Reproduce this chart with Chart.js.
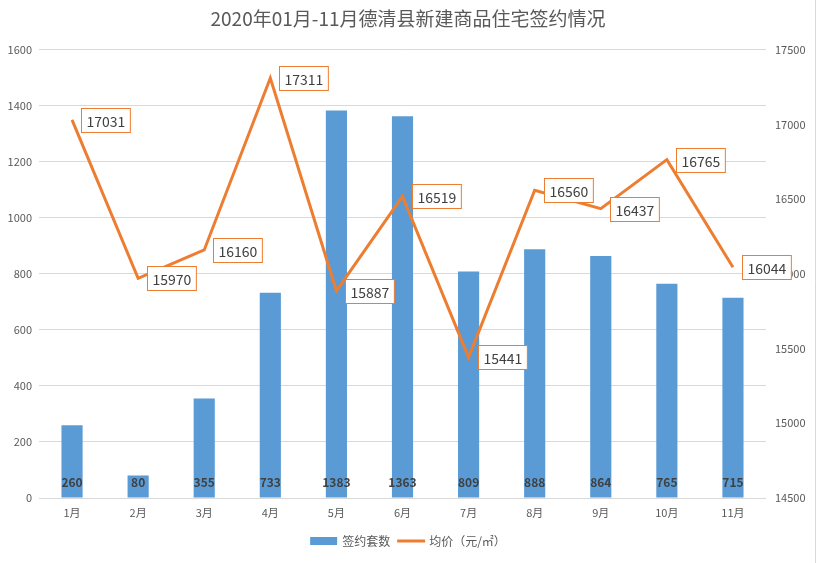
<!DOCTYPE html>
<html>
<head>
<meta charset="utf-8">
<script src="https://cdn.jsdelivr.net/npm/chart.js@4"></script>
<style>
html,body{margin:0;padding:0;background:#fff;}
#wrap{width:816px;height:563px;position:relative;}
</style>
</head>
<body>
<div id="wrap"><canvas id="c"></canvas></div>
<script>
const TITLE = '2020年01月-11月德清县新建商品住宅签约情况';
const categories = ['1月','2月','3月','4月','5月','6月','7月','8月','9月','10月','11月'];
const signedUnits = [260, 80, 355, 733, 1383, 1363, 809, 888, 864, 765, 715];
const avgPrice = [17031, 15970, 16160, 17311, 15887, 16519, 15441, 16560, 16437, 16765, 16044];
const seriesNames = ['签约套数', '均价（元/㎡）'];
const leftTicks = {min: 0, max: 1600, step: 200};
const rightTicks = {min: 14500, max: 17500, step: 500};

const FONT = '"Microsoft YaHei", "Noto Sans CJK SC", sans-serif';
const BLUE = '#5B9BD5';
const ORANGE = '#ED7D31';
const TXT = '#595959';

const labelPlugin = {
  id: 'labels',
  afterDatasetsDraw(chart) {
    const ctx = chart.ctx;
    const y = chart.scales.y;
    const base = y.getPixelForValue(0);
    const barMeta = chart.getDatasetMeta(0);
    ctx.save();
    ctx.font = 'bold 12px ' + FONT;
    ctx.fillStyle = '#404040';
    ctx.textAlign = 'center';
    ctx.textBaseline = 'middle';
    barMeta.data.forEach((el, i) => {
      ctx.fillText(String(chart.data.datasets[0].data[i]), el.x, base - 16);
    });
    const lineMeta = chart.getDatasetMeta(1);
    ctx.font = '14px ' + FONT;
    ctx.textAlign = 'left';
    lineMeta.data.forEach((el, i) => {
      const t = String(chart.data.datasets[1].data[i]);
      const w = ctx.measureText(t).width + 10;
      const h = 24;
      const bx = Math.round(el.x + 9) + 0.5;
      const by = Math.round(el.y - h / 2) + 0.5;
      ctx.fillStyle = '#fff';
      ctx.fillRect(bx, by, w, h);
      ctx.strokeStyle = ORANGE;
      ctx.lineWidth = 1;
      ctx.strokeRect(bx, by, w, h);
      ctx.fillStyle = '#404040';
      ctx.fillText(t, bx + 5, by + h / 2 + 1);
    });
    ctx.restore();
  },
  afterDraw(chart) {
    const ctx = chart.ctx;
    const ds = chart.data.datasets;
    ctx.save();
    ctx.font = '12px ' + FONT;
    ctx.textBaseline = 'middle';
    ctx.textAlign = 'left';
    const sw = 28, gap = 4, itemGap = 7;
    const widths = ds.map(d => sw + gap + ctx.measureText(d.label).width);
    const total = widths.reduce((a, b) => a + b, 0) + itemGap;
    let x = (chart.width - total) / 2;
    const yc = 541;
    ds.forEach((d, i) => {
      if (d.type === 'line') {
        ctx.strokeStyle = d.borderColor;
        ctx.lineWidth = 3;
        ctx.beginPath();
        ctx.moveTo(x, yc);
        ctx.lineTo(x + sw, yc);
        ctx.stroke();
      } else {
        ctx.fillStyle = d.backgroundColor;
        ctx.fillRect(x, yc - 4, sw - 1, 8);
      }
      ctx.fillStyle = TXT;
      ctx.fillText(d.label, x + sw + gap, yc);
      x += widths[i] + itemGap;
    });
    ctx.strokeStyle = '#D9D9D9';
    ctx.lineWidth = 1;
    ctx.beginPath();
    ctx.moveTo(815.5, 0);
    ctx.lineTo(815.5, chart.height);
    ctx.stroke();
    ctx.restore();
  }
};

new Chart(document.getElementById('c'), {
  data: {
    labels: categories,
    datasets: [
      {
        type: 'bar',
        label: seriesNames[0],
        data: signedUnits,
        backgroundColor: BLUE,
        yAxisID: 'y',
        barPercentage: 0.32,
        categoryPercentage: 1,
        order: 2
      },
      {
        type: 'line',
        label: seriesNames[1],
        data: avgPrice,
        borderColor: ORANGE,
        backgroundColor: ORANGE,
        borderWidth: 3,
        pointRadius: 0,
        tension: 0,
        yAxisID: 'y1',
        order: 1
      }
    ]
  },
  options: {
    responsive: true,
    maintainAspectRatio: false,
    animation: false,
    layout: {padding: {top: 0, bottom: 35, left: 0, right: 0}},
    plugins: {
      legend: {display: false},
      tooltip: {enabled: false},
      title: {
        display: true,
        text: TITLE,
        color: TXT,
        font: {size: 19, family: FONT, weight: 'normal'},
        padding: {top: 7, bottom: 20}
      }
    },
    scales: {
      x: {
        grid: {display: false, drawTicks: false},
        border: {display: false},
        ticks: {color: TXT, font: {size: 11, family: FONT}, padding: 8, maxRotation: 0},
        afterFit(s) { s.height = 30; }
      },
      y: {
        position: 'left',
        min: leftTicks.min, max: leftTicks.max,
        ticks: {stepSize: leftTicks.step, color: TXT, font: {size: 11, family: FONT}, padding: 7,
                callback: v => String(v)},
        grid: {color: '#D9D9D9', drawTicks: false},
        border: {display: false},
        afterFit(s) { s.width = 39; }
      },
      y1: {
        position: 'right',
        min: rightTicks.min, max: rightTicks.max,
        ticks: {stepSize: rightTicks.step, color: TXT, font: {size: 11, family: FONT}, padding: 9,
                callback: v => String(v)},
        grid: {display: false, drawTicks: false},
        border: {display: false},
        afterFit(s) { s.width = 50; }
      }
    }
  },
  plugins: [labelPlugin]
});
</script>
</body>
</html>
